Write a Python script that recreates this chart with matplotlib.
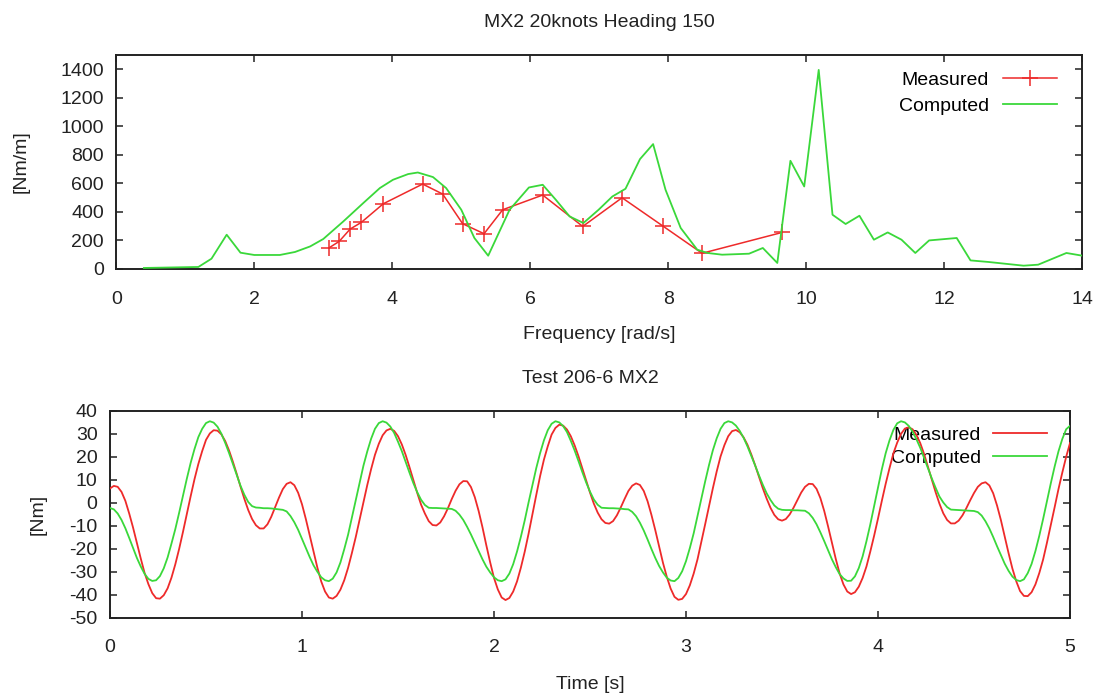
import numpy
from matplotlib import pyplot

pyplot.rcParams['font.family'] = ['Liberation Sans', 'DejaVu Sans']
pyplot.rcParams['font.size'] = 14
pyplot.rcParams['axes.unicode_minus'] = False

RED = '#ee2a2a'
GREEN = '#3ad83a'
INK = '#222222'

# --- MX2 20knots Heading 150 (frequency domain) ---
freq_measured = [3.08, 3.23, 3.39, 3.55, 3.87, 4.44, 4.73, 5.02, 5.33, 5.60,
                 6.18, 6.76, 7.33, 7.93, 8.49, 9.65]
mx2_measured = [147, 193, 280, 326, 457, 595, 525, 317, 247, 415,
                518, 298, 499, 298, 110, 256]

freq_computed = [0.40, 1.19, 1.38, 1.60, 1.80, 2.00, 2.37, 2.59, 2.81, 3.00,
                 3.29, 3.58, 3.82, 4.01, 4.23, 4.37, 4.59, 4.78, 5.00, 5.19,
                 5.39, 5.70, 5.98, 6.18, 6.37, 6.57, 6.77, 6.99, 7.19, 7.38,
                 7.59, 7.78, 7.96, 8.18, 8.42, 8.57, 8.78, 9.17, 9.37, 9.58,
                 9.77, 9.97, 10.18, 10.38, 10.57, 10.77, 10.98, 11.18, 11.38, 11.58,
                 11.78, 12.18, 12.38, 12.64, 13.15, 13.36, 13.77, 14.0]
mx2_computed = [7, 14, 72, 240, 114, 98, 98, 119, 158, 210,
                333, 462, 567, 625, 665, 676, 644, 567, 415, 217,
                93, 415, 571, 590, 485, 368, 322, 415, 508, 562,
                770, 875, 555, 287, 135, 112, 100, 107, 147, 42,
                758, 578, 1395, 380, 315, 373, 205, 256, 205, 112,
                200, 217, 60, 49, 23, 30, 112, 93]

# --- Test 206-6 MX2 (time domain), one value every 0.02 s from 0 to 5 s ---
ts_measured = [
    6.3, 7.4, 7.0, 4.8, 0.9, -4.6, -10.7, -17.4, -24.1, -30.4,
    -35.3, -39.2, -41.4, -41.6, -40.1, -37.1, -32.5, -26.7, -20.0, -12.6,
    -4.8, 2.9, 10.3, 16.9, 22.5, 27.4, 30.2, 31.6, 31.4, 29.8,
    26.9, 22.8, 17.9, 12.6, 7.0, 1.7, -3.1, -7.0, -9.7, -11.1,
    -11.1, -9.3, -6.0, -1.9, 2.3, 6.0, 8.3, 9.0, 7.7, 4.4,
    -0.6, -7.0, -14.1, -21.3, -28.1, -34.1, -38.5, -41.1, -41.6, -40.4,
    -37.7, -33.6, -28.2, -21.7, -14.8, -7.2, 0.4, 7.8, 14.7, 20.9,
    25.7, 29.4, 31.5, 32.2, 31.3, 29.0, 25.4, 20.8, 15.5, 9.9,
    4.4, -0.7, -4.6, -7.9, -9.6, -9.8, -8.5, -5.8, -2.3, 1.7,
    5.3, 8.1, 9.5, 9.4, 6.9, 2.5, -3.5, -10.6, -18.4, -25.8,
    -32.6, -37.6, -41.1, -42.2, -41.3, -38.5, -34.1, -28.1, -21.2, -13.4,
    -4.9, 3.4, 11.6, 18.8, 24.6, 29.7, 32.6, 34.0, 33.6, 31.9,
    29.0, 25.0, 20.3, 15.0, 9.6, 4.5, -0.3, -4.2, -7.1, -8.7,
    -9.0, -7.9, -5.4, -2.0, 1.7, 5.2, 7.5, 8.5, 7.8, 5.2,
    0.7, -5.2, -11.8, -19.0, -26.0, -32.1, -37.2, -40.8, -42.1, -41.7,
    -39.6, -35.8, -30.7, -24.5, -16.9, -9.2, -1.3, 6.4, 13.7, 20.2,
    25.1, 29.0, 31.2, 31.7, 30.7, 28.5, 25.3, 21.1, 16.4, 11.4,
    6.4, 1.9, -2.1, -5.2, -7.1, -7.7, -7.0, -5.0, -2.1, 1.2,
    4.5, 7.0, 8.3, 8.2, 6.1, 2.1, -3.5, -10.2, -17.3, -24.3,
    -30.6, -35.4, -38.5, -39.6, -38.8, -36.4, -32.6, -27.6, -21.1, -14.2,
    -6.8, 0.9, 8.3, 15.1, 21.5, 26.2, 30.0, 32.3, 32.9, 32.0,
    29.6, 26.0, 21.3, 15.8, 10.2, 4.7, -0.3, -4.5, -7.4, -8.9,
    -8.9, -7.7, -5.4, -2.3, 1.1, 4.3, 7.0, 8.5, 9.0, 7.6,
    4.2, -1.1, -7.4, -14.6, -21.8, -28.5, -34.0, -38.3, -40.4, -40.5,
    -38.8, -35.4, -30.5, -24.6, -17.3, -9.7, -1.9, 6.0, 13.2, 20.0,
    26.0]
ts_computed = [
    -2.2, -2.8, -4.6, -7.4, -11.0, -15.2, -19.6, -23.9, -27.6, -30.8,
    -33.0, -33.9, -33.6, -31.8, -28.4, -23.7, -17.7, -11.4, -4.3, 3.2,
    10.5, 17.4, 23.4, 28.6, 32.2, 34.7, 35.5, 34.9, 33.1, 30.1,
    26.1, 21.7, 16.9, 12.0, 7.4, 3.5, 0.4, -1.4, -2.0, -2.1,
    -2.3, -2.3, -2.4, -2.6, -2.8, -3.0, -3.7, -5.7, -8.4, -11.7,
    -15.6, -19.6, -23.5, -27.1, -29.9, -32.3, -33.6, -34.0, -32.9, -30.2,
    -25.9, -20.1, -13.8, -6.3, 1.3, 8.9, 16.2, 22.4, 27.9, 32.2,
    34.7, 35.5, 34.9, 33.2, 30.4, 26.6, 22.5, 17.8, 13.1, 8.6,
    4.7, 1.4, -0.9, -2.1, -2.2, -2.2, -2.3, -2.4, -2.5, -2.6,
    -3.4, -5.1, -7.4, -10.4, -13.7, -17.3, -21.0, -24.5, -27.7, -30.2,
    -32.3, -33.6, -34.0, -33.2, -30.7, -26.6, -21.1, -14.7, -7.6, 0.2,
    7.7, 15.1, 21.6, 27.2, 31.6, 34.4, 35.5, 35.0, 33.4, 30.8,
    27.0, 22.8, 18.2, 13.4, 8.9, 4.9, 1.5, -0.8, -2.1, -2.2,
    -2.3, -2.3, -2.4, -2.5, -2.7, -2.8, -3.9, -5.8, -8.6, -12.0,
    -15.9, -20.0, -23.9, -27.4, -30.2, -32.5, -33.7, -34.0, -32.6, -29.7,
    -25.3, -19.6, -13.2, -5.6, 1.9, 9.4, 16.5, 22.9, 28.1, 32.2,
    34.7, 35.5, 35.0, 33.6, 31.3, 28.3, 24.6, 20.5, 16.3, 12.0,
    7.9, 4.2, 1.3, -1.1, -2.5, -3.0, -3.1, -3.1, -3.2, -3.2,
    -3.3, -3.4, -4.5, -6.5, -9.3, -12.8, -16.6, -20.6, -24.5, -27.9,
    -30.9, -32.8, -33.9, -33.8, -31.9, -28.3, -23.2, -16.6, -9.3, -1.3,
    6.8, 14.6, 21.6, 27.2, 31.7, 34.6, 35.5, 35.0, 33.5, 31.0,
    27.7, 24.0, 19.6, 15.1, 10.7, 6.6, 2.8, 0.2, -1.8, -2.9,
    -3.0, -3.1, -3.2, -3.3, -3.4, -3.5, -4.0, -5.5, -8.0, -11.1,
    -14.8, -18.8, -22.6, -26.4, -29.5, -32.0, -33.5, -34.0, -33.2, -30.5,
    -26.5, -20.9, -14.3, -7.0, 0.8, 8.5, 15.8, 22.4, 27.8, 32.0,
    33.5]

time = numpy.linspace(0, 5, len(ts_measured))


def style_axes(ax, xpad, ypad):
    for spine in ax.spines.values():
        spine.set_linewidth(1.4)
        spine.set_color(INK)
    ax.tick_params(direction='in', length=5, width=1.1, color=INK,
                   top=True, right=True, labelcolor=INK)
    ax.tick_params(axis='x', pad=xpad)
    ax.tick_params(axis='y', pad=ypad)


fig = pyplot.figure(figsize=(10.99, 6.95), dpi=100)

# top: frequency response
ax = fig.add_axes([0.1058, 0.613, 0.879, 0.308])
ax.plot(freq_measured, mx2_measured, color=RED, lw=1.1, marker='+',
        markersize=12, markeredgewidth=1.1, label='Measured', zorder=3)
ax.plot(freq_computed, mx2_computed, color=GREEN, lw=1.3, label='Computed', zorder=4)
ax.set_xlim(0, 14)
ax.set_ylim(0, 1500)
ax.set_xticks(numpy.arange(0, 15, 2))
ax.set_yticks(numpy.arange(0, 1401, 200))
style_axes(ax, 16, 9)
ax.set_title('MX2 20knots Heading 150', fontsize=14, pad=20, color=INK)
ax.set_xlabel('Frequency [rad/s]', color=INK)
ax.set_ylabel('[Nm/m]', color=INK)
ax.xaxis.set_label_coords(0.5, -0.265)
ax.yaxis.set_label_coords(-0.09, 0.5)
leg = ax.legend(loc='upper right', bbox_to_anchor=(0.974, 0.925), frameon=False,
                markerfirst=False, handlelength=2.8, handletextpad=0.7,
                labelspacing=0.45, borderpad=0, borderaxespad=0, fontsize=14)
leg.set_zorder(1)

# bottom: time series
ax = fig.add_axes([0.1001, 0.1108, 0.8735, 0.298])
ax.plot(time, ts_measured, color=RED, lw=1.3, label='Measured', zorder=3)
ax.plot(time, ts_computed, color=GREEN, lw=1.3, label='Computed', zorder=4)
ax.set_xlim(0, 5)
ax.set_ylim(-50, 40)
ax.set_xticks(numpy.arange(0, 6, 1))
ax.set_yticks(numpy.arange(-50, 41, 10))
style_axes(ax, 15, 9)
ax.set_title('Test 206-6 MX2', fontsize=14, pad=20, color=INK)
ax.set_xlabel('Time [s]', color=INK)
ax.set_ylabel('[Nm]', color=INK)
ax.xaxis.set_label_coords(0.5, -0.28)
ax.yaxis.set_label_coords(-0.066, 0.5)
leg = ax.legend(loc='upper right', bbox_to_anchor=(0.976, 0.926), frameon=False,
                handlelength=2.8, handletextpad=0.6, markerfirst=False,
                labelspacing=0.3, borderpad=0, borderaxespad=0, fontsize=14)
leg.set_zorder(1)

pyplot.savefig('out.png')
